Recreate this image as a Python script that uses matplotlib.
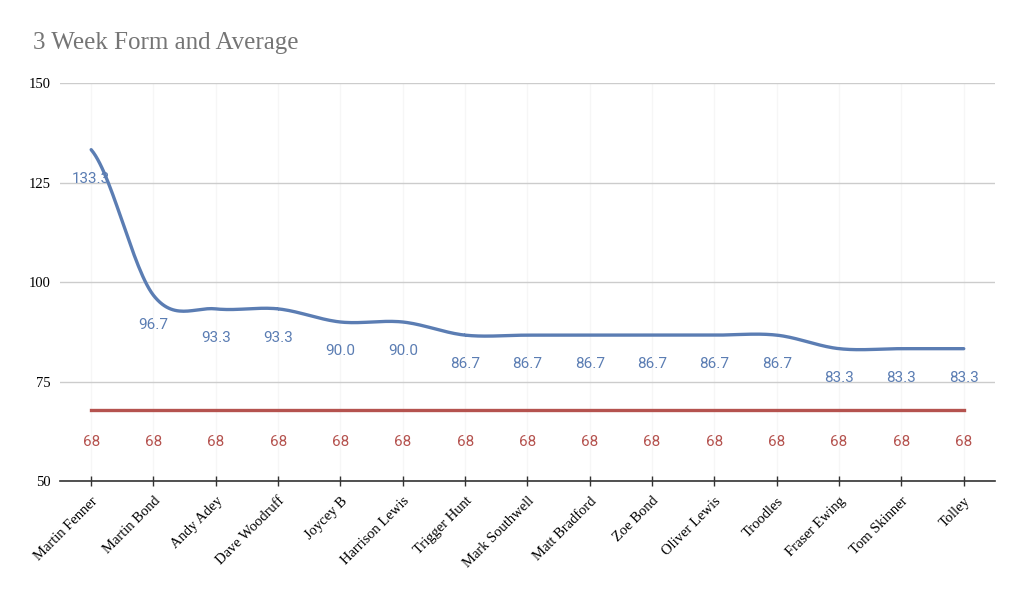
import numpy as np
import matplotlib
matplotlib.use("Agg")
import matplotlib.pyplot as plt

# Chart data
players = ["Martin Fenner", "Martin Bond", "Andy Adey", "Dave Woodruff", "Joycey B",
           "Harrison Lewis", "Trigger Hunt", "Mark Southwell", "Matt Bradford", "Zoe Bond",
           "Oliver Lewis", "Troodles", "Fraser Ewing", "Tom Skinner", "Tolley"]
form = [133.3, 96.7, 93.3, 93.3, 90.0, 90.0, 86.7, 86.7, 86.7, 86.7, 86.7, 86.7, 83.3, 83.3, 83.3]
average = [68] * len(players)

blue = "#5b7db3"
red = "#b5534f"


def smooth(xs, ys, n=30):
    # Catmull-Rom spline through the points, for a smooth line like the original
    xs = np.asarray(xs, float)
    ys = np.asarray(ys, float)
    px = np.concatenate([[2 * xs[0] - xs[1]], xs, [2 * xs[-1] - xs[-2]]])
    py = np.concatenate([[ys[0]], ys, [ys[-1]]])
    out_x, out_y = [], []
    t = np.linspace(0, 1, n)
    for i in range(1, len(px) - 2):
        for arr, out in ((px, out_x), (py, out_y)):
            p0, p1, p2, p3 = arr[i - 1], arr[i], arr[i + 1], arr[i + 2]
            seg = 0.5 * ((2 * p1) + (-p0 + p2) * t
                         + (2 * p0 - 5 * p1 + 4 * p2 - p3) * t ** 2
                         + (-p0 + 3 * p1 - 3 * p2 + p3) * t ** 3)
            out.extend(seg)
    return np.array(out_x), np.array(out_y)


x = np.arange(len(players))

fig = plt.figure(figsize=(10.24, 6), dpi=100)
ax = fig.add_axes([0.0586, 0.198, 0.913, 0.6633])

sx, sy = smooth(x, form)
ax.plot(sx, sy, color=blue, linewidth=2.4, solid_capstyle="round", zorder=3)
ax.plot(x, average, color=red, linewidth=2.4, zorder=3)

# Data labels below the points
for xi, v in zip(x, form):
    ax.annotate(f"{v:.1f}", (xi, v), xytext=(0, -21), textcoords="offset points",
                ha="center", va="center", color=blue, fontsize=11, family="Roboto", zorder=4)
for xi, v in zip(x, average):
    ax.annotate(f"{v}", (xi, v), xytext=(0, -23), textcoords="offset points",
                ha="center", va="center", color=red, fontsize=11, family="Roboto", zorder=4)

ax.set_xlim(-0.5, len(players) - 0.5)
ax.set_ylim(50, 150)
ax.set_yticks([50, 75, 100, 125, 150])
ax.set_xticks(x)
ax.set_xticklabels(players, rotation=45, ha="right", rotation_mode="anchor",
                   family="Liberation Serif", fontsize=10.5)
for lab in ax.get_yticklabels():
    lab.set_family("Liberation Serif")
    lab.set_fontsize(10.5)

ax.grid(axis="y", color="#cccccc", linewidth=1)
ax.grid(axis="x", color="#f6f6f6", linewidth=1)
ax.set_axisbelow(True)
for s in ["left", "right", "top"]:
    ax.spines[s].set_visible(False)
ax.spines["bottom"].set_color("#333333")
ax.spines["bottom"].set_linewidth(1.2)
ax.tick_params(axis="y", length=0, pad=7)
ax.tick_params(axis="x", length=7, width=1, color="#333333", pad=6, direction="inout")

fig.text(0.032, 0.928, "3 Week Form and Average", fontsize=18, color="#757575",
         family="Liberation Serif", va="center")

plt.savefig("out.png", dpi=100)
